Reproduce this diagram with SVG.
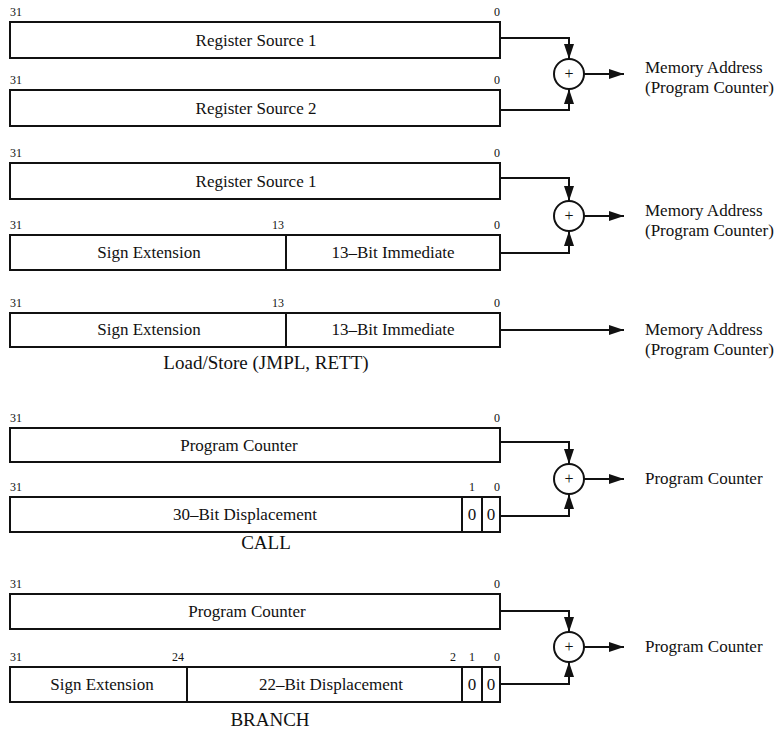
<svg xmlns="http://www.w3.org/2000/svg" width="782" height="730" viewBox="0 0 782 730">
  <style>
    .box { fill: #fff; stroke: #111; stroke-width: 2; }
    .div { stroke: #111; stroke-width: 2; }
    .wire { fill: none; stroke: #111; stroke-width: 2; }
    .adder { fill: #fff; stroke: #111; stroke-width: 2; }
    .lbl { font-family: "Liberation Serif", "Times New Roman", serif; font-size: 17px; fill: #111; text-anchor: middle; }
    .cap { font-family: "Liberation Serif", "Times New Roman", serif; font-size: 19px; fill: #111; text-anchor: middle; }
    .out { font-family: "Liberation Serif", "Times New Roman", serif; font-size: 17px; fill: #111; }
    .bit { font-family: "Liberation Serif", "Times New Roman", serif; font-size: 12px; fill: #111; }
    .plus { font-family: "Liberation Serif", "Times New Roman", serif; font-size: 16px; fill: #111; text-anchor: middle; }
  </style>
  <defs>
    <marker id="arrow" markerUnits="userSpaceOnUse" markerWidth="16" markerHeight="10" refX="15" refY="5" orient="auto">
      <path d="M0,0 L15,5 L0,10 Z" fill="#111"/>
    </marker>
  </defs>
  <rect width="782" height="730" fill="#fff"/>

  <!-- Register + register addressing -->
  <g id="rr-src1">
    <rect class="box" x="10" y="22" width="490" height="36"/>
    <text class="bit" x="10" y="16">31</text>
    <text class="bit" x="494" y="16">0</text>
    <text class="lbl" x="256" y="46">Register Source 1</text>
  </g>
  <g id="rr-src2">
    <rect class="box" x="10" y="90" width="490" height="36"/>
    <text class="bit" x="10" y="84">31</text>
    <text class="bit" x="494" y="84">0</text>
    <text class="lbl" x="256" y="114">Register Source 2</text>
  </g>
  <g id="rr-adder">
    <circle class="adder" cx="569" cy="74" r="15"/>
    <text class="plus" x="569" y="79">+</text>
  </g>
  <g id="rr-result">
    <text class="out" x="645" y="73">Memory Address</text>
    <text class="out" x="645" y="93">(Program Counter)</text>
  </g>

  <!-- Register + immediate addressing -->
  <g id="ri-src1">
    <rect class="box" x="10" y="163" width="490" height="36"/>
    <text class="bit" x="10" y="157">31</text>
    <text class="bit" x="494" y="157">0</text>
    <text class="lbl" x="256" y="187">Register Source 1</text>
  </g>
  <g id="ri-imm">
    <rect class="box" x="10" y="235" width="490" height="35"/>
    <line class="div" x1="286" y1="235" x2="286" y2="270"/>
    <text class="bit" x="10" y="229">31</text>
    <text class="bit" x="272" y="229">13</text>
    <text class="bit" x="494" y="229">0</text>
    <text class="lbl" x="149" y="258">Sign Extension</text>
    <text class="lbl" x="393" y="258">13–Bit Immediate</text>
  </g>
  <g id="ri-adder">
    <circle class="adder" cx="569" cy="216" r="15"/>
    <text class="plus" x="569" y="221">+</text>
  </g>
  <g id="ri-result">
    <text class="out" x="645" y="216">Memory Address</text>
    <text class="out" x="645" y="236">(Program Counter)</text>
  </g>

  <!-- Immediate-only addressing (load/store) -->
  <g id="ls-imm">
    <rect class="box" x="10" y="313" width="490" height="34"/>
    <line class="div" x1="286" y1="313" x2="286" y2="347"/>
    <text class="bit" x="10" y="307">31</text>
    <text class="bit" x="272" y="307">13</text>
    <text class="bit" x="494" y="307">0</text>
    <text class="lbl" x="149" y="335">Sign Extension</text>
    <text class="lbl" x="393" y="335">13–Bit Immediate</text>
    <text class="cap" x="266" y="369">Load/Store (JMPL, RETT)</text>
  </g>
  <g id="ls-result">
    <text class="out" x="645" y="335">Memory Address</text>
    <text class="out" x="645" y="355">(Program Counter)</text>
  </g>

  <!-- CALL -->
  <g id="call-pc">
    <rect class="box" x="10" y="428" width="490" height="34"/>
    <text class="bit" x="10" y="422">31</text>
    <text class="bit" x="494" y="422">0</text>
    <text class="lbl" x="239" y="451">Program Counter</text>
  </g>
  <g id="call-disp">
    <rect class="box" x="10" y="497" width="490" height="35"/>
    <line class="div" x1="462" y1="497" x2="462" y2="532"/>
    <line class="div" x1="482" y1="497" x2="482" y2="532"/>
    <text class="bit" x="10" y="491">31</text>
    <text class="bit" x="469" y="491">1</text>
    <text class="bit" x="494" y="491">0</text>
    <text class="lbl" x="245" y="520">30–Bit Displacement</text>
    <text class="lbl" x="472" y="520">0</text>
    <text class="lbl" x="491" y="520">0</text>
    <text class="cap" x="266" y="549">CALL</text>
  </g>
  <g id="call-adder">
    <circle class="adder" cx="569" cy="479" r="15"/>
    <text class="plus" x="569" y="484">+</text>
  </g>
  <g id="call-result">
    <text class="out" x="645" y="484">Program Counter</text>
  </g>

  <!-- BRANCH -->
  <g id="br-pc">
    <rect class="box" x="10" y="594" width="490" height="35"/>
    <text class="bit" x="10" y="588">31</text>
    <text class="bit" x="494" y="588">0</text>
    <text class="lbl" x="247" y="617">Program Counter</text>
  </g>
  <g id="br-disp">
    <rect class="box" x="10" y="667" width="490" height="35"/>
    <line class="div" x1="187" y1="667" x2="187" y2="702"/>
    <line class="div" x1="462" y1="667" x2="462" y2="702"/>
    <line class="div" x1="482" y1="667" x2="482" y2="702"/>
    <text class="bit" x="10" y="661">31</text>
    <text class="bit" x="172" y="661">24</text>
    <text class="bit" x="450" y="661">2</text>
    <text class="bit" x="469" y="661">1</text>
    <text class="bit" x="494" y="661">0</text>
    <text class="lbl" x="102" y="690">Sign Extension</text>
    <text class="lbl" x="331" y="690">22–Bit Displacement</text>
    <text class="lbl" x="472" y="690">0</text>
    <text class="lbl" x="491" y="690">0</text>
    <text class="cap" x="270" y="726">BRANCH</text>
  </g>
  <g id="br-adder">
    <circle class="adder" cx="569" cy="647" r="15"/>
    <text class="plus" x="569" y="652">+</text>
  </g>
  <g id="br-result">
    <text class="out" x="645" y="652">Program Counter</text>
  </g>

  <!-- Connectors -->
  <g id="connectors">
    <path class="wire" d="M500,38 H569 V59" marker-end="url(#arrow)"/>
    <path class="wire" d="M500,110 H569 V89" marker-end="url(#arrow)"/>
    <path class="wire" d="M584,74 H624" marker-end="url(#arrow)"/>

    <path class="wire" d="M500,178 H569 V201" marker-end="url(#arrow)"/>
    <path class="wire" d="M500,253 H569 V231" marker-end="url(#arrow)"/>
    <path class="wire" d="M584,216 H624" marker-end="url(#arrow)"/>

    <path class="wire" d="M500,330 H624" marker-end="url(#arrow)"/>

    <path class="wire" d="M500,442 H569 V464" marker-end="url(#arrow)"/>
    <path class="wire" d="M500,516 H569 V494" marker-end="url(#arrow)"/>
    <path class="wire" d="M584,479 H624" marker-end="url(#arrow)"/>

    <path class="wire" d="M500,611 H569 V632" marker-end="url(#arrow)"/>
    <path class="wire" d="M500,684 H569 V662" marker-end="url(#arrow)"/>
    <path class="wire" d="M584,647 H624" marker-end="url(#arrow)"/>
  </g>
</svg>
